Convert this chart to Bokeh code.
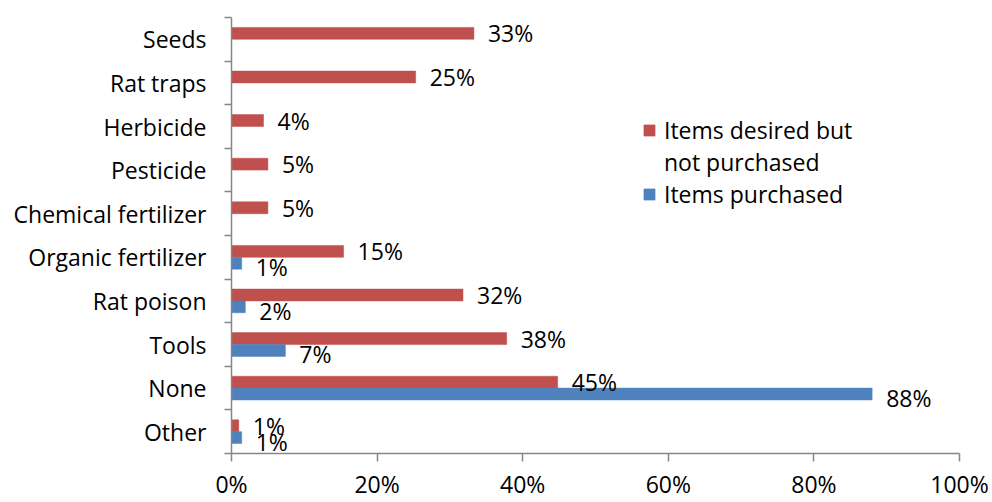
from bokeh.plotting import figure
from bokeh.models import ColumnDataSource, Range1d, FixedTicker, Legend, LegendItem
from bokeh.transform import dodge
from bokeh.core.properties import value
from bokeh.embed import file_html
from bokeh.resources import INLINE

categories = ["Seeds", "Rat traps", "Herbicide", "Pesticide", "Chemical fertilizer",
              "Organic fertilizer", "Rat poison", "Tools", "None", "Other"]
desired = [33.3, 25.3, 4.4, 5.0, 5.0, 15.4, 31.8, 37.8, 44.8, 1.0]
purchased = [0, 0, 0, 0, 0, 1.4, 1.9, 7.4, 88.0, 1.4]
series_name_lines = [["Items desired but", "not purchased"], ["Items purchased"]]
x_ticks = [0, 20, 40, 60, 80, 100]
x_tick_labels = ["0%", "20%", "40%", "60%", "80%", "100%"]

RED = "#C0504D"
BLUE = "#4F81BD"
AXIS = "#868686"
FONT = "Open Sans"
FS = "23px"

n = len(categories)
pos = [n - i - 0.5 for i in range(n)]

src = ColumnDataSource(dict(
    y=pos, cat=categories, desired=desired, purchased=purchased,
    dlab=[f"{v:.0f}%" for v in desired],
))
bsrc = ColumnDataSource(dict(
    y=[p_ for p_, v in zip(pos, purchased) if v > 0],
    purchased=[v for v in purchased if v > 0],
    plab=[f"{v:.0f}%" for v in purchased if v > 0],
))

p = figure(width=992, height=502, output_backend="svg", toolbar_location=None,
           x_range=Range1d(0, 100), y_range=Range1d(0, n),
           min_border_left=231, min_border_right=33, min_border_top=17, min_border_bottom=45)
p.outline_line_color = None
p.xgrid.visible = False
p.ygrid.visible = False
p.background_fill_color = "white"
p.border_fill_color = "white"

off = 0.136
bh = 0.273
r_red = p.hbar(y=dodge("y", off, range=p.y_range), left=0, right="desired", height=bh,
               source=src, fill_color=RED, line_color=RED, line_width=0.5)
r_blue = p.hbar(y=dodge("y", -off, range=p.y_range), left=0, right="purchased", height=bh,
                source=src, fill_color=BLUE, line_color=BLUE, line_width=0.5)
# empty renderer used only to carry the legend's second text line
r_blank = p.hbar(y=[], left=[], right=[], height=bh, fill_alpha=0, line_alpha=0)

p.text(x="desired", y=dodge("y", off, range=p.y_range), text="dlab", source=src,
       x_offset=14, y_offset=0, text_baseline="middle", text_align="left",
       text_font=value(FONT), text_font_size=FS, text_color="black")
p.text(x="purchased", y=dodge("y", -off, range=p.y_range), text="plab", source=bsrc,
       x_offset=14, y_offset=4, text_baseline="middle", text_align="left",
       text_font=value(FONT), text_font_size=FS, text_color="black")

# y axis: labels at category centres, tick marks between categories
ya = p.yaxis[0]
ya.ticker = FixedTicker(ticks=pos, minor_ticks=list(range(n + 1)))
ya.major_label_overrides = {float(p_): c for p_, c in zip(pos, categories)}
ya.major_tick_out = 0
ya.major_tick_in = 0
ya.minor_tick_out = 7
ya.minor_tick_in = 0
ya.minor_tick_line_color = AXIS
ya.minor_tick_line_width = 1.5
ya.axis_line_color = AXIS
ya.axis_line_width = 1.5
ya.major_label_standoff = 18
ya.major_label_text_font = FONT
ya.major_label_text_font_size = FS
ya.major_label_text_color = "black"

xa = p.xaxis[0]
xa.ticker = FixedTicker(ticks=x_ticks, minor_ticks=[])
xa.major_label_overrides = {t: l for t, l in zip(x_ticks, x_tick_labels)}
xa.major_tick_out = 8
xa.major_tick_in = 0
xa.major_tick_line_color = AXIS
xa.major_tick_line_width = 1.5
xa.axis_line_color = AXIS
xa.axis_line_width = 1.5
xa.major_label_standoff = 6
xa.major_label_text_font = FONT
xa.major_label_text_font_size = FS
xa.major_label_text_color = "black"

legend = Legend(items=[LegendItem(label=series_name_lines[0][0], renderers=[r_red]),
                       LegendItem(label=series_name_lines[0][1], renderers=[r_blank]),
                       LegendItem(label=series_name_lines[1][0], renderers=[r_blue])],
                location=(411, 243), glyph_width=14, glyph_height=14, label_height=31,
                label_standoff=8, spacing=0, padding=0, margin=0,
                border_line_color=None, background_fill_alpha=0,
                label_text_font=FONT, label_text_font_size=FS,
                label_text_color="black")
p.add_layout(legend)

open("out.html", "w").write(file_html(p, INLINE))
